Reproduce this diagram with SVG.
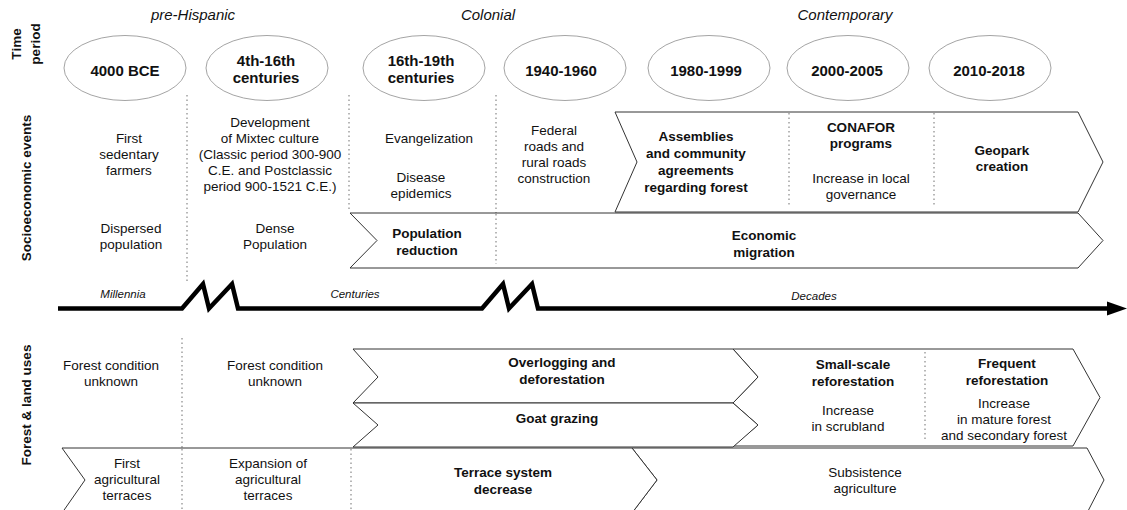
<svg xmlns="http://www.w3.org/2000/svg" width="1127" height="510" viewBox="0 0 1127 510">
<style>
text{font-family:"Liberation Sans",Arial,sans-serif;fill:#111;text-anchor:middle}
.t{font-size:13.5px}
.b{font-size:13.5px;font-weight:bold}
.h{font-size:15px;font-weight:bold}
.era{font-size:15px;font-style:italic}
.sc{font-size:11.5px;font-style:italic}
.side{font-size:13.5px;font-weight:bold}
.ell{fill:#fff;stroke:#9a9a9a;stroke-width:0.9}
.chev{fill:#fff;stroke:#333;stroke-width:1}
.dot{stroke:#888;stroke-width:1.2;stroke-dasharray:1.5 3;fill:none}
.axis{stroke:#000;stroke-width:4.5;fill:none;stroke-linejoin:miter}
</style>

<g id="side-labels">
<text class="side" transform="translate(21,44) rotate(-90)">Time</text>
<text class="side" transform="translate(40,44) rotate(-90)">period</text>
<text class="side" transform="translate(31,188) rotate(-90)">Socioeconomic events</text>
<text class="side" transform="translate(31,405) rotate(-90)">Forest &amp; land uses</text>
</g>

<g id="eras">
<text class="era" x="193" y="20">pre-Hispanic</text>
<text class="era" x="488" y="20">Colonial</text>
<text class="era" x="845" y="20">Contemporary</text>
</g>

<g id="dividers">
<line class="dot" x1="187" y1="95" x2="187" y2="283"/>
<line class="dot" x1="349" y1="95" x2="349" y2="211"/>
<line class="dot" x1="496" y1="95" x2="496" y2="264"/>
<line class="dot" x1="789" y1="113" x2="789" y2="205"/>
<line class="dot" x1="934" y1="113" x2="934" y2="205"/>
<line class="dot" x1="182" y1="338" x2="182" y2="510"/>
<line class="dot" x1="351" y1="449" x2="351" y2="510"/>
<line class="dot" x1="925" y1="352" x2="925" y2="442"/>
</g>

<g id="period-4000bce"><ellipse class="ell" cx="125" cy="68" rx="61" ry="32.5"/><text class="h" x="125" y="76">4000 BCE</text></g>
<g id="period-4th16th"><ellipse class="ell" cx="267" cy="68" rx="61" ry="32.5"/><text class="h" x="266" y="66">4th-16th</text><text class="h" x="266" y="83">centuries</text></g>
<g id="period-16th19th"><ellipse class="ell" cx="424" cy="68" rx="61" ry="32.5"/><text class="h" x="421" y="66">16th-19th</text><text class="h" x="421" y="83">centuries</text></g>
<g id="period-1940"><ellipse class="ell" cx="565" cy="68" rx="61" ry="32.5"/><text class="h" x="561" y="76">1940-1960</text></g>
<g id="period-1980"><ellipse class="ell" cx="709" cy="68" rx="61" ry="32.5"/><text class="h" x="706" y="76">1980-1999</text></g>
<g id="period-2000"><ellipse class="ell" cx="848" cy="68" rx="61" ry="32.5"/><text class="h" x="847" y="76">2000-2005</text></g>
<g id="period-2010"><ellipse class="ell" cx="990" cy="68" rx="61" ry="32.5"/><text class="h" x="989" y="76">2010-2018</text></g>

<g id="connectors">
<polyline class="axis" points="58,308.5 182,308.5 203,284 209,308.5 232,284 238,308.5 482,308.5 503,284 509,308.5 532,284 538,308.5 1108,308.5"/>
<polygon points="1107,301.5 1127,308.5 1107,315.5" fill="#000"/>
</g>

<g id="timescale">
<text class="sc" x="123" y="298">Millennia</text>
<text class="sc" x="355" y="298">Centuries</text>
<text class="sc" x="814" y="300">Decades</text>
</g>

<g id="ev-first-farmers">
<text class="t" x="129" y="143">First</text>
<text class="t" x="129" y="159">sedentary</text>
<text class="t" x="129" y="175">farmers</text>
</g>
<g id="ev-dispersed">
<text class="t" x="131" y="233">Dispersed</text>
<text class="t" x="131" y="249">population</text>
</g>
<g id="ev-mixtec">
<text class="t" x="270" y="127">Development</text>
<text class="t" x="270" y="143">of Mixtec culture</text>
<text class="t" x="270" y="159">(Classic period 300-900</text>
<text class="t" x="270" y="175">C.E. and Postclassic</text>
<text class="t" x="270" y="191">period 900-1521 C.E.)</text>
</g>
<g id="ev-dense">
<text class="t" x="275" y="233">Dense</text>
<text class="t" x="275" y="249">Population</text>
</g>
<g id="ev-evangelization"><text class="t" x="429" y="143">Evangelization</text></g>
<g id="ev-disease">
<text class="t" x="421" y="182">Disease</text>
<text class="t" x="421" y="198">epidemics</text>
</g>
<g id="ev-roads">
<text class="t" x="554" y="135">Federal</text>
<text class="t" x="554" y="151">roads and</text>
<text class="t" x="554" y="167">rural roads</text>
<text class="t" x="554" y="183">construction</text>
</g>

<g id="ev-economic-chevron">
<polygon class="chev" points="350,213 1078,213 1103,240.5 1078,268 350,268 377,240.5"/>
<text class="b" x="427" y="238">Population</text>
<text class="b" x="427" y="255">reduction</text>
<text class="b" x="764" y="240">Economic</text>
<text class="b" x="764" y="257">migration</text>
</g>
<line class="dot" x1="496" y1="214" x2="496" y2="264"/>

<g id="ev-governance-chevron">
<polygon class="chev" points="615,112 1078,112 1103,162 1078,212 615,212 637,162"/>
<text class="b" x="696" y="141">Assemblies</text>
<text class="b" x="696" y="158">and community</text>
<text class="b" x="696" y="175">agreements</text>
<text class="b" x="696" y="192">regarding forest</text>
<text class="b" x="861" y="132">CONAFOR</text>
<text class="b" x="861" y="148">programs</text>
<text class="t" x="861" y="183">Increase in local</text>
<text class="t" x="861" y="199">governance</text>
<text class="b" x="1002" y="155">Geopark</text>
<text class="b" x="1002" y="171">creation</text>
<line class="dot" x1="789" y1="113" x2="789" y2="205"/>
<line class="dot" x1="934" y1="113" x2="934" y2="205"/>
</g>

<g id="fl-forest-unknown-1">
<text class="t" x="111" y="370">Forest condition</text>
<text class="t" x="111" y="386">unknown</text>
</g>
<g id="fl-forest-unknown-2">
<text class="t" x="275" y="370">Forest condition</text>
<text class="t" x="275" y="386">unknown</text>
</g>

<g id="fl-reforestation-chevron">
<polygon class="chev" points="733,349 1073,349 1100,397.5 1073,446 733,446 758,425 733,403 758,377"/>
<text class="b" x="853" y="369">Small-scale</text>
<text class="b" x="853" y="386">reforestation</text>
<text class="t" x="848" y="415">Increase</text>
<text class="t" x="848" y="431">in scrubland</text>
<text class="b" x="1007" y="368">Frequent</text>
<text class="b" x="1007" y="385">reforestation</text>
<text class="t" x="1004" y="408">Increase</text>
<text class="t" x="1004" y="424">in mature forest</text>
<text class="t" x="1004" y="440">and secondary forest</text>
<line class="dot" x1="925" y1="352" x2="925" y2="442"/>
</g>

<g id="fl-overlogging-chevron">
<polygon class="chev" points="353,349 733,349 758,377 733,403 353,403 378,377"/>
<text class="b" x="562" y="367">Overlogging and</text>
<text class="b" x="562" y="384">deforestation</text>
</g>

<g id="fl-goat-chevron">
<polygon class="chev" points="353,403 733,403 758,425 733,447 353,447 378,425"/>
<text class="b" x="557" y="423">Goat grazing</text>
</g>

<g id="fl-subsistence-chevron">
<polygon class="chev" points="632,448 1087,448 1104,480 1087,513 632,513 657,480"/>
<text class="t" x="865" y="477">Subsistence</text>
<text class="t" x="865" y="493">agriculture</text>
</g>

<g id="fl-terrace-chevron">
<polygon class="chev" points="62,448 632,448 657,480 632,513 62,513 85,480"/>
<text class="t" x="127" y="468">First</text>
<text class="t" x="127" y="484">agricultural</text>
<text class="t" x="127" y="500">terraces</text>
<text class="t" x="268" y="468">Expansion of</text>
<text class="t" x="268" y="484">agricultural</text>
<text class="t" x="268" y="500">terraces</text>
<text class="b" x="503" y="477">Terrace system</text>
<text class="b" x="503" y="494">decrease</text>
<line class="dot" x1="182" y1="449" x2="182" y2="510"/>
<line class="dot" x1="351" y1="449" x2="351" y2="510"/>
</g>
</svg>
